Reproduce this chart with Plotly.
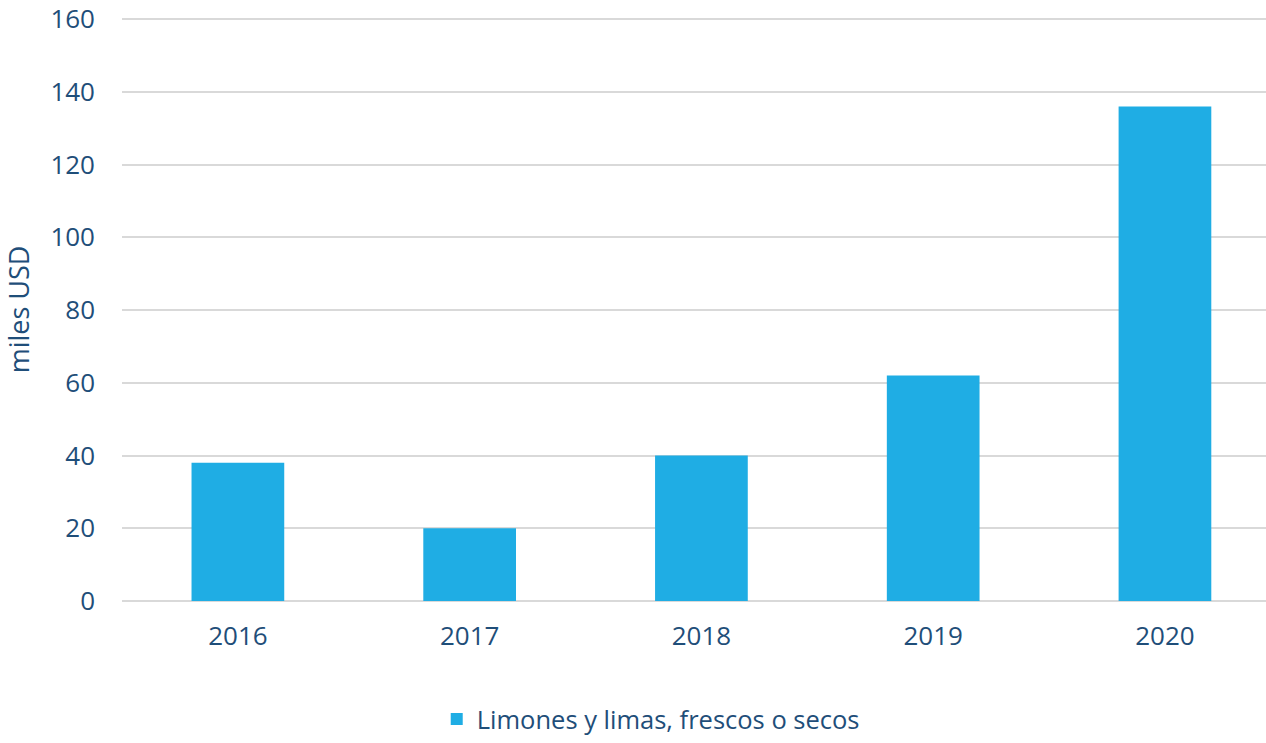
import plotly.graph_objects as go

years = ["2016", "2017", "2018", "2019", "2020"]
values = [38, 20, 40, 62, 136]
series_name = "Limones y limas, frescos o secos"
y_title = "miles USD"
y_ticks = [0, 20, 40, 60, 80, 100, 120, 140, 160]

TEXT = "#1F4E79"
BAR = "#1FADE4"
FONT = "Open Sans, Liberation Sans, sans-serif"

fig = go.Figure()
fig.add_trace(go.Bar(
    x=list(range(len(years))), y=values, name=series_name,
    marker=dict(color=BAR, line=dict(width=0)), width=0.4,
    showlegend=True,
))

fig.update_layout(
    width=1266, height=743,
    margin=dict(l=122, r=0, t=18, b=142),
    paper_bgcolor="white", plot_bgcolor="white",
    font=dict(family=FONT, size=26, color=TEXT),
    legend=dict(
        orientation="h", xref="container", yref="container",
        x=0.514, xanchor="center", y=0.0, yanchor="bottom",
        font=dict(size=25.5, color=TEXT), itemsizing="constant",
        itemwidth=30,
    ),
    xaxis=dict(
        tickmode="array", tickvals=list(range(len(years))), ticktext=years,
        range=[-0.5, 4.436], showgrid=False, zeroline=False,
        showline=False, ticks="", ticklabelstandoff=17,
        tickfont=dict(size=26, color=TEXT),
    ),
    yaxis=dict(
        range=[0, 160.3], tickvals=y_ticks, showgrid=True,
        gridcolor="#D9D9D9", gridwidth=2, zeroline=True,
        zerolinecolor="#D9D9D9", zerolinewidth=2, showline=False,
        ticks="", ticklabelstandoff=26,
        tickfont=dict(size=26, color=TEXT),
        title=dict(text=y_title, font=dict(size=27, color=TEXT), standoff=14),
    ),
)

fig.write_html(
    "out.html",
    config={"displayModeBar": False},
    post_script="document.body.style.margin='0';document.body.style.overflow='hidden';",
)
